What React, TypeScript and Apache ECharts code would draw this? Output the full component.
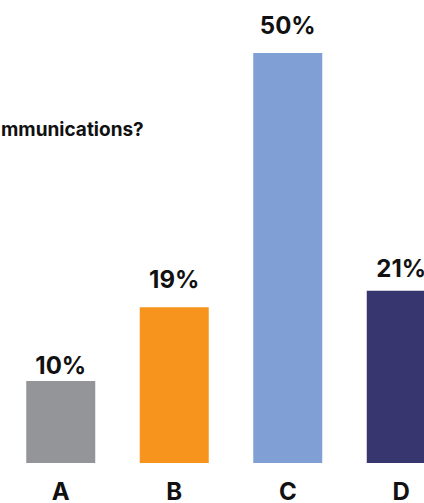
import React, { useEffect, useRef } from "react";
import * as echarts from "echarts";

const categories = ["A", "B", "C", "D"];
const values = [10, 19, 50, 21];
const colors = ["#939598", "#F7941D", "#7F9FD5", "#37366F"];
const labelGaps = [4, 16, 16, 10];
const titleText = "mmunications?";

export default function App() {
  const ref = useRef<HTMLDivElement>(null);
  useEffect(() => {
    if (!ref.current) return;
    const chart = echarts.init(ref.current, null, { renderer: "svg" });
    const font = "Inter, Lato, 'Open Sans', sans-serif";
    chart.setOption({
      animation: false,
      backgroundColor: "#ffffff",
      graphic: [
        {
          type: "text",
          left: 1,
          top: 120,
          style: {
            text: titleText,
            fontFamily: font,
            fontWeight: "bold",
            fontSize: 19,
            fill: "#111111",
          },
        },
      ],
      grid: { left: 4, top: 53, width: 454, bottom: 37, containLabel: false },
      xAxis: {
        type: "category",
        data: categories,
        axisLine: { show: false },
        axisTick: { show: false },
        axisLabel: {
          margin: 19,
          fontFamily: font,
          fontWeight: "bold",
          fontSize: 24,
          lineHeight: 18,
          color: "#111111",
        },
      },
      yAxis: {
        type: "value",
        min: 0,
        max: 50,
        show: false,
        splitLine: { show: false },
      },
      series: [
        {
          type: "bar",
          barWidth: 69,
          data: values.map((v, i) => ({
            value: v,
            itemStyle: { color: colors[i] },
            label: { distance: labelGaps[i] },
          })),
          label: {
            show: true,
            position: "top",
            formatter: "{c}%",
            fontFamily: font,
            fontWeight: "bold",
            fontSize: 24,
            color: "#111111",
          },
        },
      ],
    });
    return () => chart.dispose();
  }, []);
  return (
    <div
      style={{
        position: "fixed",
        left: 0,
        top: 0,
        width: 424,
        height: 503,
        overflow: "hidden",
        background: "#ffffff",
      }}
    >
      <div ref={ref} style={{ width: 462, height: 503 }} />
    </div>
  );
}
